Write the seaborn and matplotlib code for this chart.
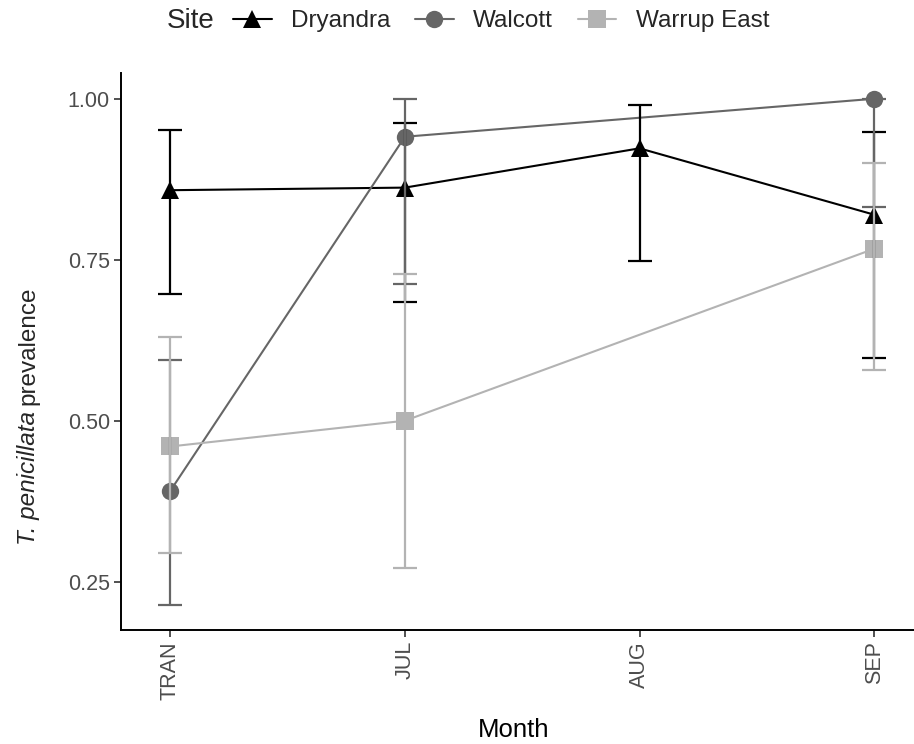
import matplotlib
matplotlib.use("Agg")
import matplotlib.pyplot as plt
import seaborn as sns
import pandas as pd
from matplotlib.lines import Line2D

months = ["TRAN", "JUL", "AUG", "SEP"]

dry_month = ["TRAN", "JUL", "AUG", "SEP"]
dry_prev = [0.858, 0.862, 0.923, 0.820]
dry_lo = [0.697, 0.685, 0.748, 0.598]
dry_hi = [0.952, 0.962, 0.991, 0.948]

wal_month = ["TRAN", "JUL", "SEP"]
wal_prev = [0.391, 0.941, 1.000]
wal_lo = [0.214, 0.713, 0.832]
wal_hi = [0.595, 0.999, 1.000]

war_month = ["TRAN", "JUL", "SEP"]
war_prev = [0.460, 0.500, 0.767]
war_lo = [0.295, 0.271, 0.578]
war_hi = [0.630, 0.728, 0.900]

sites = ["Dryandra", "Walcott", "Warrup East"]
colors = {"Dryandra": "#000000", "Walcott": "#666666", "Warrup East": "#b3b3b3"}
markers = {"Dryandra": "^", "Walcott": "o", "Warrup East": "s"}

df = pd.concat([
    pd.DataFrame({"Month": dry_month, "prev": dry_prev, "lo": dry_lo, "hi": dry_hi, "Site": "Dryandra"}),
    pd.DataFrame({"Month": wal_month, "prev": wal_prev, "lo": wal_lo, "hi": wal_hi, "Site": "Walcott"}),
    pd.DataFrame({"Month": war_month, "prev": war_prev, "lo": war_lo, "hi": war_hi, "Site": "Warrup East"}),
], ignore_index=True)

sns.set_theme(style="ticks")
plt.rcParams["font.family"] = ["Liberation Sans", "DejaVu Sans"]

W, H = 914, 744
fig = plt.figure(figsize=(W / 100, H / 100), dpi=100)
ax = fig.add_axes([121 / W, (H - 630) / H, 1 - 121 / W, (630 - 73) / H])

sns.lineplot(data=df, x="Month", y="prev", hue="Site", style="Site",
             hue_order=sites, style_order=sites, palette=colors, markers=markers,
             dashes=False, sort=False, markersize=12.5, linewidth=1.5,
             markeredgewidth=0, legend=False, ax=ax, zorder=2)

for i, s in enumerate(sites):
    d = df[df["Site"] == s]
    ax.errorbar(d["Month"], d["prev"], yerr=[d["prev"] - d["lo"], d["hi"] - d["prev"]],
                fmt="none", ecolor=colors[s], elinewidth=1.6, capsize=8.5,
                capthick=1.6, zorder=3 + i)

ax.set_xlim(-0.21, 3.17)
ax.set_ylim(0.175, 1.04)
ax.set_yticks([0.25, 0.50, 0.75, 1.00])
ax.set_yticklabels(["0.25", "0.50", "0.75", "1.00"])
ax.tick_params(axis="both", colors="#333333", labelcolor="#4d4d4d", labelsize=15.5,
               length=5, width=1.2, pad=3)
ax.tick_params(axis="x", labelrotation=90)
for sp in ["top", "right"]:
    ax.spines[sp].set_visible(False)
for sp in ["left", "bottom"]:
    ax.spines[sp].set_linewidth(1.4)
    ax.spines[sp].set_color("#000000")

ax.set_xlabel("Month", fontsize=18.5, color="#000000")
ax.xaxis.set_label_coords((514 - 121) / (W - 121), -(730 - 630) / (630 - 73))
ax.xaxis.label.set_va("center")
ax.set_ylabel("")

# y-axis title: italic species name + regular word
yl_x = 28 / W
yl_start = (H - 545) / H
t1 = fig.text(yl_x, yl_start, "T. penicillata", fontsize=17.5, style="italic",
              rotation=90, rotation_mode="anchor", ha="left", va="center")
fig.canvas.draw()
bb = t1.get_window_extent(renderer=fig.canvas.get_renderer())
fig.text(yl_x, (bb.y1 + 6) / H, "prevalence", fontsize=17.5,
         rotation=90, rotation_mode="anchor", ha="left", va="center")

fig.text(167 / W, 1 - 21 / H, "Site", fontsize=20, va="center", ha="left")
handles = [Line2D([], [], color=colors[s], marker=markers[s], markersize=12.5,
                  markeredgewidth=0, linewidth=1.5) for s in sites]
fig.legend(handles, sites, loc="center left", bbox_to_anchor=(233 / W, 1 - 21 / H),
           ncol=3, frameon=False, fontsize=17.5, handlelength=1.6,
           columnspacing=1.0, handletextpad=0.8, borderaxespad=0, borderpad=0)

fig.savefig("out.png", dpi=100)
